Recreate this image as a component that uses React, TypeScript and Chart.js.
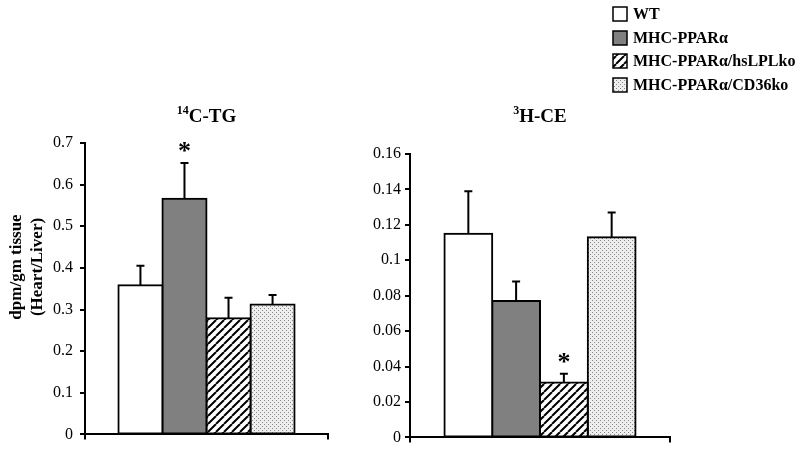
import React, { useEffect, useRef } from 'react';
import { Chart, registerables } from 'chart.js';

Chart.register(...registerables);

// ---- data ----
const seriesNames = ['WT', 'MHC-PPARα', 'MHC-PPARα/hsLPLko', 'MHC-PPARα/CD36ko'];
const categories = [''];
const tgValues = [0.358, 0.566, 0.279, 0.312];
const tgErrors = [0.047, 0.086, 0.049, 0.023];
const tgStars = [false, true, false, false];
const ceValues = [0.115, 0.077, 0.031, 0.113];
const ceErrors = [0.024, 0.011, 0.005, 0.014];
const ceStars = [false, false, true, false];
const tgAxis = [0, 0.7, 0.1];
const ceAxis = [0, 0.16, 0.02];
const yTitleLines = ['dpm/gm tissue', '(Heart/Liver)'];

const W = 800;
const H = 451;
const SERIF = "'Liberation Serif', 'Times New Roman', serif";

function makeFills(): any[] {
  const T = 8;
  const h = document.createElement('canvas');
  h.width = T;
  h.height = T;
  const hc = h.getContext('2d')!;
  hc.fillStyle = '#ffffff';
  hc.fillRect(0, 0, T, T);
  hc.strokeStyle = '#000000';
  hc.lineWidth = 2;
  for (let k = -1; k <= 1; k++) {
    hc.beginPath();
    hc.moveTo(k * T, T);
    hc.lineTo(k * T + T, 0);
    hc.stroke();
  }
  const d = document.createElement('canvas');
  d.width = 4;
  d.height = 4;
  const dc = d.getContext('2d')!;
  dc.fillStyle = '#eeeeee';
  dc.fillRect(0, 0, 4, 4);
  dc.fillStyle = '#888888';
  dc.fillRect(0, 0, 1, 1);
  dc.fillRect(2, 2, 1, 1);
  return ['#ffffff', '#808080', hc.createPattern(h, 'repeat'), dc.createPattern(d, 'repeat')];
}

type Cfg = {
  values: number[];
  errors: number[];
  stars: boolean[];
  axis: number[];
  area: { left: number; right: number; top: number; bottom: number };
  yWidth: number;
  tickPad: number;
  sup: string;
  rest: string;
  legend: boolean;
  yTitle: boolean;
  catPct: number;
};

function buildChart(canvas: HTMLCanvasElement, cfg: Cfg, fills: any[]) {
  const xHeight = 8;
  const fmt = (v: number) => String(Number(Number(v).toFixed(3)));

  const overlay = {
    id: 'overlay',
    afterDatasetsDraw(chart: any) {
      const ctx = chart.ctx;
      const ys = chart.scales.y;
      ctx.save();
      // error bars
      for (let i = 0; i < cfg.values.length; i++) {
        const bar = chart.getDatasetMeta(i).data[0];
        const top = ys.getPixelForValue(cfg.values[i] + cfg.errors[i]);
        ctx.strokeStyle = '#000';
        ctx.lineWidth = 2;
        ctx.beginPath();
        ctx.moveTo(bar.x, bar.y);
        ctx.lineTo(bar.x, top);
        ctx.moveTo(bar.x - 4, top);
        ctx.lineTo(bar.x + 4, top);
        ctx.stroke();
        if (cfg.stars[i]) {
          ctx.fillStyle = '#000';
          ctx.font = `bold 26px ${SERIF}`;
          ctx.textAlign = 'center';
          ctx.textBaseline = 'alphabetic';
          ctx.fillText('*', bar.x, top - 4);
        }
      }
      // title
      const ca = chart.chartArea;
      const cx = (ca.left + ca.right) / 2;
      ctx.fillStyle = '#000';
      ctx.textAlign = 'left';
      ctx.textBaseline = 'alphabetic';
      ctx.font = `bold 12px ${SERIF}`;
      const sw = ctx.measureText(cfg.sup).width;
      ctx.font = `bold 19px ${SERIF}`;
      const rw = ctx.measureText(cfg.rest).width;
      const x0 = cx - (sw + rw) / 2;
      ctx.font = `bold 12px ${SERIF}`;
      ctx.fillText(cfg.sup, x0, 114);
      ctx.font = `bold 19px ${SERIF}`;
      ctx.fillText(cfg.rest, x0 + sw, 122);
      // y title
      if (cfg.yTitle) {
        ctx.save();
        ctx.font = `bold 17px ${SERIF}`;
        ctx.textAlign = 'center';
        ctx.textBaseline = 'middle';
        const xs = [17, 38];
        yTitleLines.forEach((t, k) => {
          ctx.save();
          ctx.translate(xs[k], 267);
          ctx.rotate(-Math.PI / 2);
          ctx.fillText(t, 0, 0);
          ctx.restore();
        });
        ctx.restore();
      }
      // legend
      if (cfg.legend) {
        const rows = [14, 38, 61, 85];
        ctx.font = `bold 16px ${SERIF}`;
        ctx.textAlign = 'left';
        ctx.textBaseline = 'middle';
        seriesNames.forEach((name, k) => {
          const y = rows[k];
          ctx.fillStyle = fills[k];
          ctx.fillRect(613, y - 7, 14, 14);
          ctx.strokeStyle = '#000';
          ctx.lineWidth = 1.5;
          ctx.strokeRect(613, y - 7, 14, 14);
          ctx.fillStyle = '#000';
          ctx.fillText(name, 633, y + 1);
        });
      }
      ctx.restore();
    },
  };

  return new Chart(canvas, {
    type: 'bar',
    data: {
      labels: categories,
      datasets: seriesNames.map((name, i) => ({
        label: name,
        data: [cfg.values[i]],
        backgroundColor: fills[i],
        borderColor: '#000',
        borderWidth: 2,
        borderSkipped: false,
        inflateAmount: 1,
        categoryPercentage: cfg.catPct,
        barPercentage: 1,
      })),
    },
    options: {
      responsive: false,
      animation: false,
      devicePixelRatio: 1,
      layout: {
        padding: {
          left: cfg.area.left - cfg.yWidth,
          right: W - cfg.area.right,
          top: cfg.area.top,
          bottom: H - cfg.area.bottom - xHeight,
        },
      },
      plugins: { legend: { display: false }, tooltip: { enabled: false }, title: { display: false } },
      scales: {
        x: {
          type: 'category',
          offset: true,
          grid: { display: true, drawOnChartArea: false, drawTicks: true, tickLength: 5, color: '#000', lineWidth: 2, offset: true },
          border: { display: true, color: '#000', width: 2 },
          ticks: { display: false },
          afterFit: (s: any) => { s.height = xHeight; },
        },
        y: {
          min: cfg.axis[0],
          max: cfg.axis[1],
          ticks: {
            stepSize: cfg.axis[2],
            color: '#000',
            font: { family: SERIF, size: 16 },
            padding: cfg.tickPad,
            callback: (v: any) => fmt(v),
          },
          grid: { display: true, drawOnChartArea: false, drawTicks: true, tickLength: 5, color: '#000', lineWidth: 2 },
          border: { display: true, color: '#000', width: 2 },
          afterFit: (s: any) => { s.width = cfg.yWidth; },
        },
      },
    },
    plugins: [overlay],
  } as any);
}

export default function App() {
  const leftRef = useRef<HTMLCanvasElement>(null);
  const rightRef = useRef<HTMLCanvasElement>(null);

  useEffect(() => {
    const fills = makeFills();
    const c1 = buildChart(leftRef.current!, {
      values: tgValues, errors: tgErrors, stars: tgStars, axis: tgAxis,
      area: { left: 85, right: 328, top: 143, bottom: 440 },
      yWidth: 40, tickPad: 7, sup: '14', rest: 'C-TG', legend: false, yTitle: true, catPct: 0.725,
    }, fills);
    const c2 = buildChart(rightRef.current!, {
      values: ceValues, errors: ceErrors, stars: ceStars, axis: ceAxis,
      area: { left: 410, right: 670, top: 154, bottom: 439 },
      yWidth: 40, tickPad: 4, sup: '3', rest: 'H-CE', legend: true, yTitle: false, catPct: 0.735,
    }, fills);
    return () => { c1.destroy(); c2.destroy(); };
  }, []);

  const cs: React.CSSProperties = { position: 'absolute', left: 0, top: 0 };
  return (
    <div style={{ position: 'absolute', left: 0, top: 0, width: W, height: H, background: '#fff' }}>
      <canvas ref={leftRef} width={W} height={H} style={cs} />
      <canvas ref={rightRef} width={W} height={H} style={cs} />
    </div>
  );
}
